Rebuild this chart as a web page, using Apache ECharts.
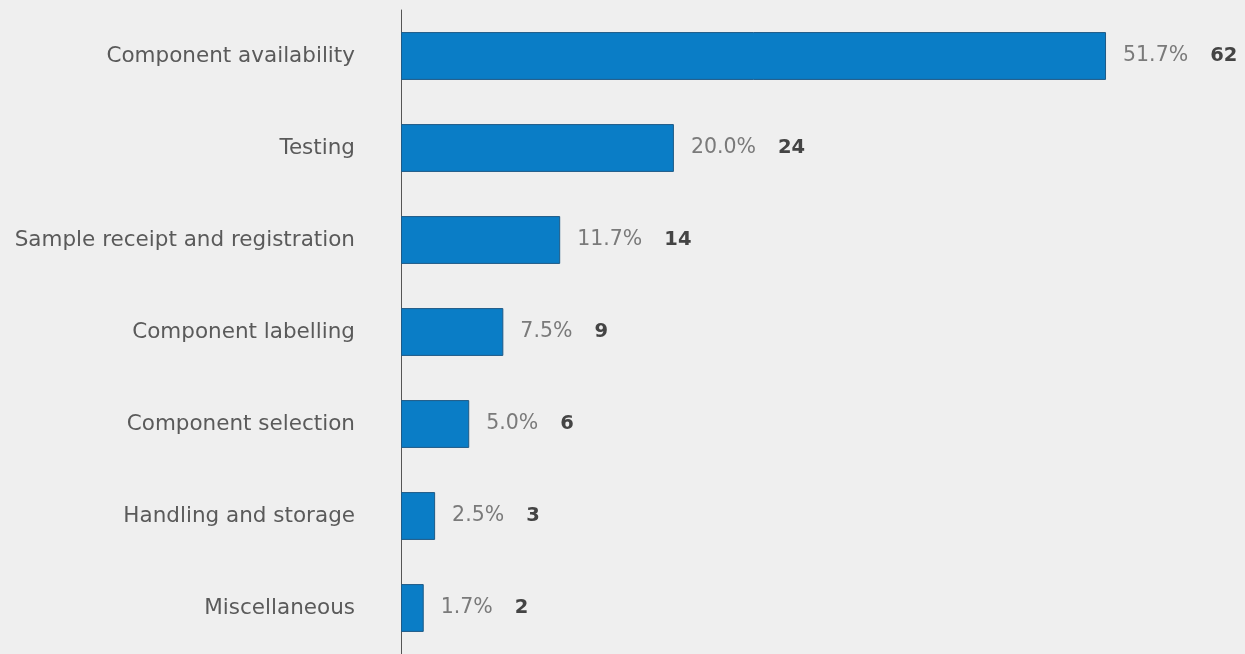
<!DOCTYPE html>
<html>
<head>
<meta charset="utf-8">
<script src="https://cdn.jsdelivr.net/npm/echarts@6/dist/echarts.min.js"></script>
<style>
html, body { margin: 0; padding: 0; background: #efefef; }
#main { width: 1245px; height: 654px; }
</style>
</head>
<body>
<div id="main"></div>
<script>
var categories = ['Component availability', 'Testing', 'Sample receipt and registration', 'Component labelling', 'Component selection', 'Handling and storage', 'Miscellaneous'];
var counts = [62, 24, 14, 9, 6, 3, 2];
var percents = ['51.7%', '20.0%', '11.7%', '7.5%', '5.0%', '2.5%', '1.7%'];

var chart = echarts.init(document.getElementById('main'));
chart.setOption({
    backgroundColor: '#efefef',
    animation: false,
    grid: { left: 401, right: 48, top: 10, bottom: 0, containLabel: false },
    xAxis: {
        type: 'value',
        min: 0,
        max: 70,
        show: false
    },
    yAxis: {
        type: 'category',
        inverse: true,
        data: categories,
        axisLine: { show: true, lineStyle: { color: '#555', width: 1 } },
        axisTick: { show: false },
        axisLabel: {
            margin: 46,
            color: '#5a5a5a',
            fontSize: 21.5,
            fontFamily: 'DejaVu Sans'
        }
    },
    series: [{
        type: 'bar',
        data: counts,
        barCategoryGap: '48%',
        itemStyle: { color: '#0a7dc6', borderColor: '#1e5a86', borderWidth: 1 },
        label: {
            show: true,
            position: 'right',
            distance: 17,
            formatter: function (p) {
                return '{p|' + percents[p.dataIndex] + '}{n|' + p.value + '}';
            },
            rich: {
                p: { color: '#7a7a7a', fontSize: 20.5, fontFamily: 'DejaVu Sans' },
                n: { color: '#444', fontSize: 19.5, fontWeight: 'bold', fontFamily: 'DejaVu Sans', padding: [0, 0, 0, 22] }
            }
        }
    }]
});
</script>
</body>
</html>
